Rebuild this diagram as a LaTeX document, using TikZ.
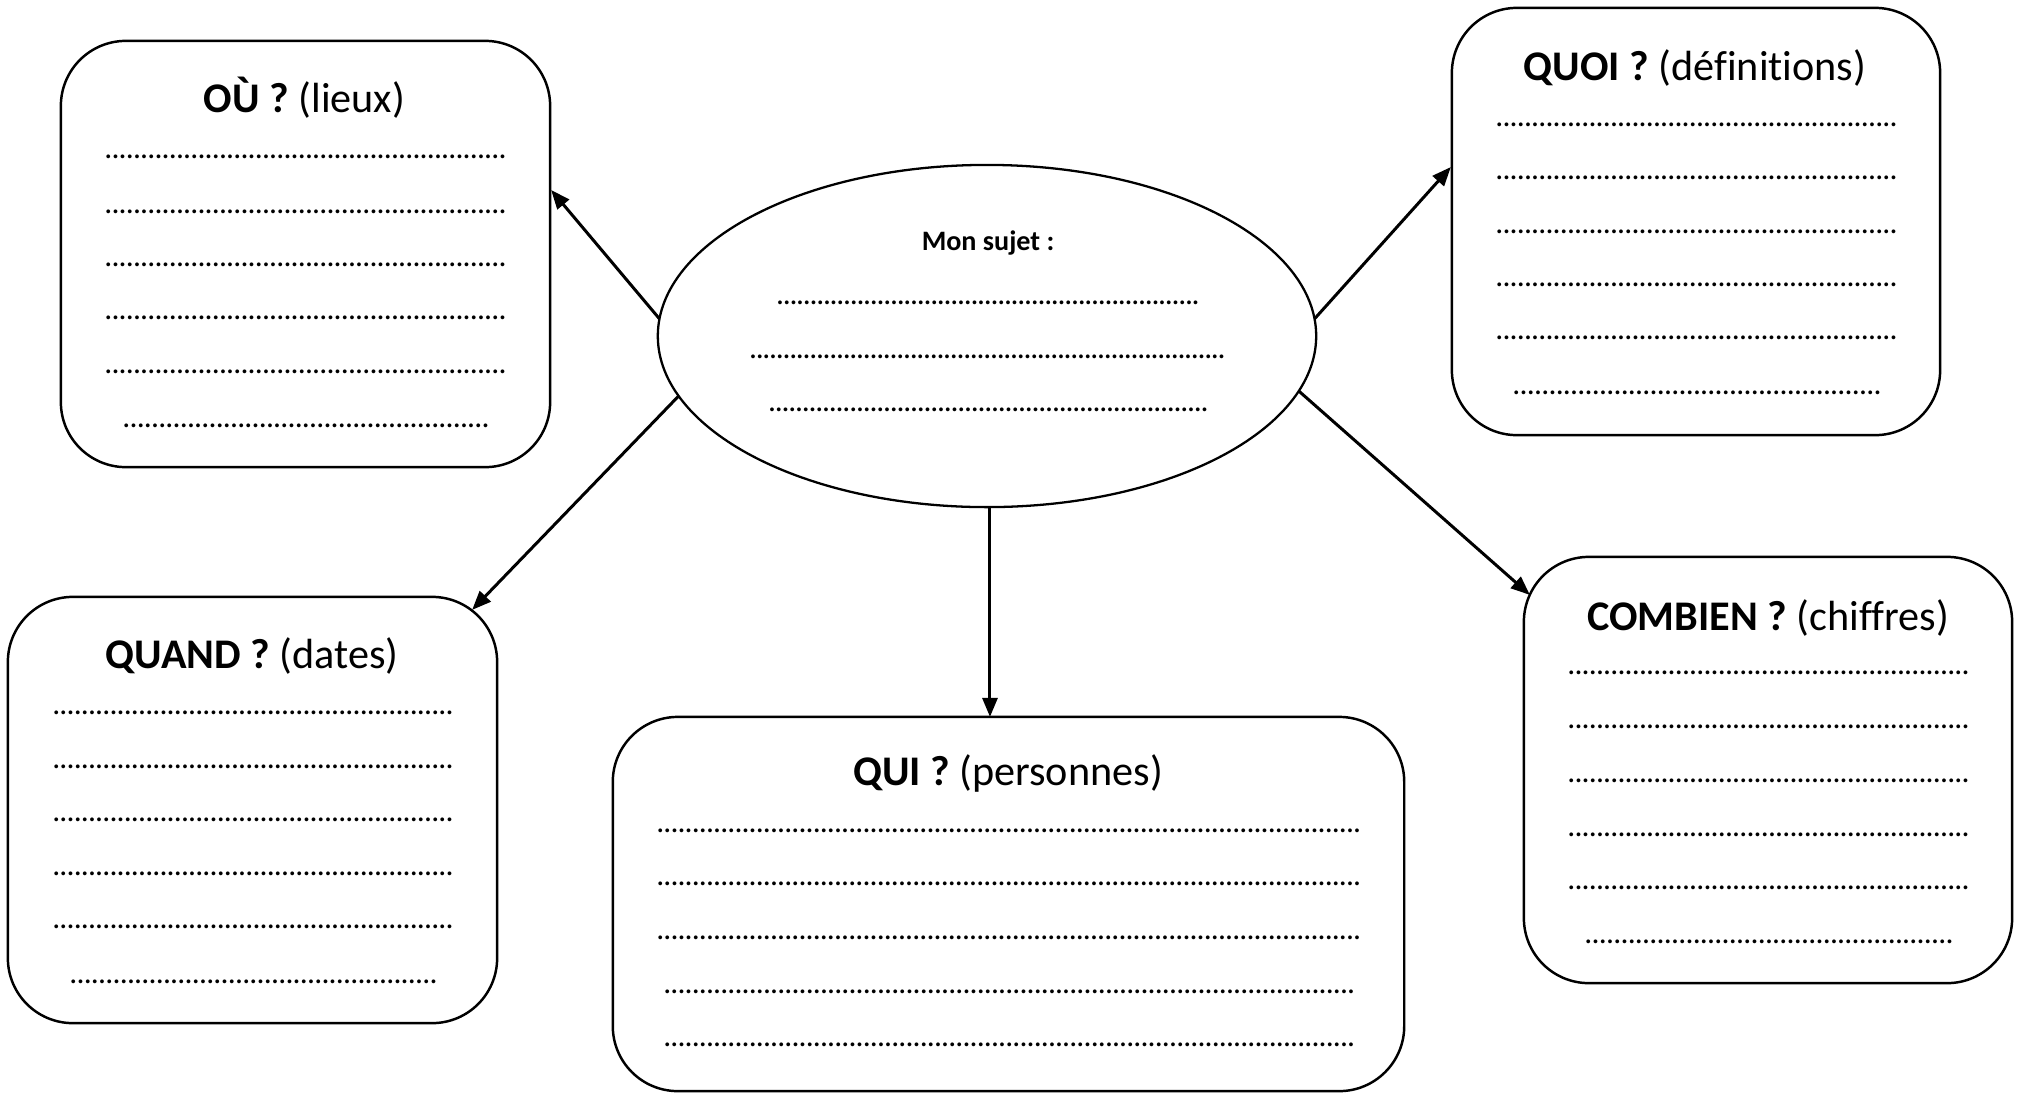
\documentclass[tikz,border=0pt]{standalone}
\usepackage{fontspec}
\setmainfont[Ligatures=NoCommon]{Carlito}
\usetikzlibrary{arrows.meta,shapes.geometric}
\newcommand\dotrow[2][0.071cm]{\hbox to #2{\xleaders\hbox to #1{\hss.\hss}\hfill}}
\begin{document}
\begin{tikzpicture}[x=0.01cm,y=-0.01cm,
  box/.style={draw,line width=0.7pt,rounded corners=0.65cm,inner sep=0pt,outer sep=0pt},
  title/.style={anchor=base,inner sep=0pt,font=\fontsize{12}{14}\selectfont},
  dots/.style={anchor=west,inner sep=0pt,font=\fontsize{9}{10}\selectfont},
  arr/.style={line width=0.85pt,-{Triangle[length=0.19cm,width=0.15cm]}}]
\useasboundingbox[fill=white] (0,0) rectangle (2024,1093);

% central ellipse
\node[draw,ellipse,line width=0.65pt,inner sep=0pt,outer sep=0pt,
      minimum width=6.58cm,minimum height=3.42cm] (e) at (987,336) {};
\node[anchor=base,inner sep=0pt,font=\fontsize{8}{9}\selectfont\bfseries] (sujet) at (988,250) {Mon sujet :};
\node[dots] (e-1) at (776,303) {\dotrow[0.067cm]{4.23cm}};
\node[dots] (e-2) at (749,357) {\dotrow[0.067cm]{4.76cm}};
\node[dots] (e-3) at (768,410) {\dotrow[0.067cm]{4.40cm}};

% OU
\node[box,minimum width=4.89cm,minimum height=4.26cm] (ou) at (305.5,254) {};
\node[title] (ou-t) at (304.5,112) {\textbf{OÙ ?} (lieux)};
\foreach \y [count=\i] in {157,212,265,318,372}
  \node[dots] (ou-\i) at (104,\y) {\dotrow{4.02cm}};
\node[dots] (ou-6) at (122,426) {\dotrow{3.67cm}};

% QUOI
\node[box,minimum width=4.88cm,minimum height=4.27cm] (quoi) at (1696,221.5) {};
\node[title] (quoi-t) at (1695,80) {\textbf{QUOI ?} (définitions)};
\foreach \y [count=\i] in {125,178,232,285,338}
  \node[dots] (quoi-\i) at (1495,\y) {\dotrow{4.02cm}};
\node[dots] (quoi-6) at (1512,393) {\dotrow{3.69cm}};

% QUAND
\node[box,minimum width=4.89cm,minimum height=4.26cm] (quand) at (252.5,810) {};
\node[title] (quand-t) at (252,668) {\textbf{QUAND ?} (dates)};
\foreach \y [count=\i] in {713,767,820,874,927}
  \node[dots] (quand-\i) at (52,\y) {\dotrow{4.01cm}};
\node[dots] (quand-6) at (69,982) {\dotrow{3.68cm}};

% QUI
\node[box,minimum width=7.91cm,minimum height=3.74cm] (qui) at (1008.5,904) {};
\node[title] (qui-t) at (1008,785) {\textbf{QUI ?} (personnes)};
\foreach \y [count=\i] in {831,884,938}
  \node[dots] (qui-\i) at (656,\y) {\dotrow{7.05cm}};
\foreach \y [count=\i from 4] in {992,1045}
  \node[dots] (qui-\i) at (663,\y) {\dotrow{6.92cm}};

% COMBIEN
\node[box,minimum width=4.88cm,minimum height=4.26cm] (combien) at (1768,770) {};
\node[title] (combien-t) at (1768,630) {\textbf{COMBIEN ?} (chiffres)};
\foreach \y [count=\i] in {673,727,781,835,888}
  \node[dots] (combien-\i) at (1567,\y) {\dotrow{4.02cm}};
\node[dots] (combien-6) at (1584,942) {\dotrow{3.69cm}};

% connectors
\draw[arr] (e.177) -- ([shift={(1,-64)}]ou.east);
\draw[arr] (e.3) -- ([shift={(-1,-54.5)}]quoi.west);
\draw[arr] (e.191.3) -- ([shift={(-25,13)}]quand.north east);
\draw[arr] (e.-89) -- (e.-89 |- qui.north);
\draw[arr] (e.-10.8) -- ([shift={(6,38)}]combien.north west);
\end{tikzpicture}
\end{document}
